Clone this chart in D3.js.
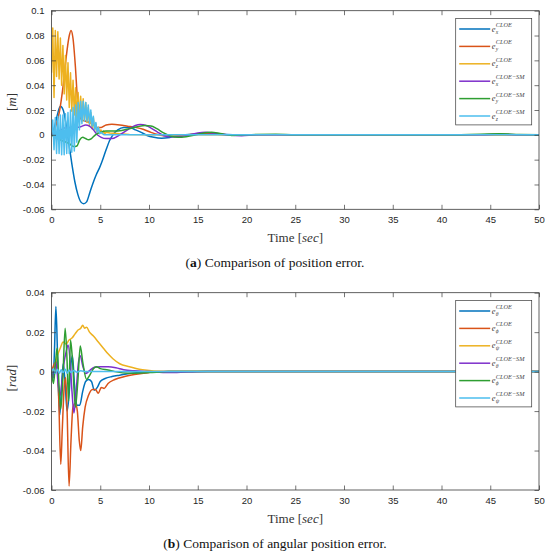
<!DOCTYPE html>
<html>
<head>
<meta charset="utf-8">
<script src="https://cdn.jsdelivr.net/npm/d3@7"></script>
<style>
  body { margin: 0; background: #fff; }
  svg { display: block; }
</style>
</head>
<body>
<div id="container"></div>
<script>
/* CONSTANTS AND GLOBALS */
const width = 550;
const height = 555;
const plotLeft = 51.5;
const plotRight = 539;
const sansFont = "'Liberation Sans', Arial, sans-serif";
const serifFont = "'Liberation Serif', 'Times New Roman', serif";

const colors = ["#0072BD", "#D95319", "#EDB120", "#7E2FCB", "#2E9E32", "#4DBEEE"];

/* DATA - tick labels */
const timeTicks = [0, 5, 10, 15, 20, 25, 30, 35, 40, 45, 50];
const posTicks = [0.1, 0.08, 0.06, 0.04, 0.02, 0, -0.02, -0.04, -0.06];
const angTicks = [0.04, 0.02, 0, -0.02, -0.04, -0.06];

/* DATA - legend */
const posSubs = ["x", "y", "z", "x", "y", "z"];
const angSubs = ["θ", "ϕ", "ψ", "θ", "ϕ", "ψ"];
const supers = ["CLOE", "CLOE", "CLOE", "CLOE−SM", "CLOE−SM", "CLOE−SM"];

/* DATA - position error [t, value] */
const posExCLOE = [[0,0],[0.3,0.006],[0.6,0.016],[0.9,0.023],[1.2,0.02],[1.5,0.008],[1.8,-0.008],[2.1,-0.024],[2.4,-0.038],[2.7,-0.048],[3.0,-0.054],[3.3,-0.0555],[3.6,-0.054],[3.95,-0.046],[4.3,-0.038],[4.6,-0.032],[4.9,-0.027],[5.2,-0.021],[5.6,-0.012],[6.0,-0.004],[6.3,0.0],[6.8,0.004],[7.4,0.006],[8.0,0.006],[8.6,0.004],[9.2,0.002],[9.8,-0.0005],[10.5,-0.002],[11.3,-0.0027],[12.2,-0.002],[13.2,-0.0005],[14.5,0.0005],[16,0.001],[17.5,0.0005],[19,0],[25,0],[35,0],[50,0]];
const posEyCLOE = [[0,0],[0.4,0.006],[0.8,0.018],[1.2,0.04],[1.5,0.062],[1.8,0.079],[2.0,0.084],[2.2,0.078],[2.45,0.055],[2.65,0.03],[2.85,0.017],[3.1,0.012],[3.5,0.011],[3.9,0.01],[4.3,0.008],[4.7,0.006],[5.1,0.006],[5.6,0.008],[6.2,0.0085],[7.0,0.008],[7.8,0.007],[8.6,0.006],[9.4,0.0045],[10.2,0.002],[11.0,0.0],[11.8,-0.001],[12.8,-0.001],[14,0],[16,0.0008],[18,0],[50,0]];
const posEzCLOE = [[0,0.05],[0.13,0.086],[0.26,0.03],[0.39,0.084],[0.52,0.047],[0.65,0.083],[0.78,0.045],[0.91,0.078],[1.04,0.04],[1.17,0.072],[1.3,0.033],[1.43,0.064],[1.56,0.028],[1.69,0.058],[1.82,0.022],[1.95,0.05],[2.08,0.019],[2.21,0.044],[2.34,0.016],[2.47,0.038],[2.6,0.013],[2.73,0.034],[2.86,0.011],[2.99,0.031],[3.12,0.011],[3.25,0.029],[3.38,0.011],[3.51,0.026],[3.64,0.01],[3.77,0.022],[3.9,0.007],[4.03,0.018],[4.16,0.005],[4.29,0.014],[4.42,0.003],[4.55,0.009],[4.68,0.002],[4.81,0.006],[4.94,0.001],[5.07,0.004],[5.2,0.001],[5.33,0.003],[5.46,0.001],[5.6,0.002],[6.0,0.0015],[7.0,0.0008],[8.0,0.0003],[10,0],[50,0]];
const posExSM = [[0,0],[0.5,0.002],[1.0,0.004],[1.5,0.006],[2.0,0.006],[2.5,0.006],[3.0,0.0065],[3.5,0.008],[3.9,0.007],[4.3,0.004],[4.7,0.0],[5.1,-0.002],[5.6,-0.003],[6.2,-0.003],[6.8,-0.001],[7.4,0.002],[8.0,0.005],[8.6,0.0075],[9.1,0.0083],[9.7,0.0075],[10.3,0.005],[10.9,0.002],[11.5,-0.0005],[12.2,-0.0015],[13,-0.0015],[14,-0.0003],[15,0.0015],[15.8,0.002],[16.8,0.0012],[18,0],[19.5,-0.0007],[21,0],[25,0],[44,0],[46,0.0007],[48,0],[50,0]];
const posEySM = [[0,0],[0.6,-0.003],[1.2,-0.005],[1.8,-0.007],[2.3,-0.0095],[2.6,-0.009],[2.9,-0.004],[3.2,-0.002],[3.5,-0.003],[3.8,-0.004],[4.1,-0.003],[4.5,0.0],[5.0,0.002],[5.6,0.003],[6.4,0.003],[7.2,0.0035],[8.0,0.005],[8.8,0.0065],[9.6,0.0075],[10.2,0.0072],[10.8,0.005],[11.5,0.0015],[12.2,-0.001],[13,-0.002],[13.8,-0.0015],[14.8,0],[15.6,0.0015],[16.4,0.002],[17.3,0.001],[18.5,-0.0005],[20,0],[23,0.0005],[25,0],[40,0],[44,0.0005],[46,0.0008],[48,0.0003],[50,0]];
const posEzSM = [[0,0],[0.13,0.012],[0.26,-0.012],[0.39,0.014],[0.52,-0.015],[0.65,0.015],[0.78,-0.015],[0.91,0.016],[1.04,-0.016],[1.17,0.016],[1.3,-0.016],[1.43,0.017],[1.56,-0.015],[1.69,0.018],[1.82,-0.015],[1.95,0.02],[2.08,-0.014],[2.21,0.022],[2.34,-0.013],[2.47,0.024],[2.6,-0.006],[2.73,0.026],[2.86,0.004],[2.99,0.027],[3.12,0.009],[3.25,0.027],[3.38,0.011],[3.51,0.026],[3.64,0.011],[3.77,0.024],[3.9,0.009],[4.03,0.02],[4.16,0.007],[4.29,0.015],[4.42,0.004],[4.55,0.01],[4.68,0.002],[4.81,0.006],[4.94,0.001],[5.1,0.002],[5.4,0],[50,0]];

/* DATA - angular position error [t, value] */
const angEthCLOE = [[0,0],[0.15,-0.004],[0.3,0.01],[0.45,0.033],[0.6,0.012],[0.72,-0.01],[0.85,-0.022],[1.0,-0.01],[1.2,0.004],[1.4,-0.006],[1.6,-0.02],[1.8,-0.012],[2.0,0.004],[2.15,0.008],[2.35,-0.006],[2.6,-0.017],[2.9,-0.017],[3.2,-0.01],[3.5,-0.005],[3.8,-0.004],[4.1,-0.005],[4.4,-0.0095],[4.7,-0.008],[5.0,-0.005],[5.5,-0.0035],[6.2,-0.0025],[7.0,-0.0018],[8.0,-0.001],[9.0,-0.0005],[10.5,-0.0002],[12,0],[50,0]];
const angEphCLOE = [[0,0],[0.3,0.004],[0.55,0.005],[0.75,-0.015],[0.95,-0.047],[1.1,-0.03],[1.3,-0.008],[1.45,-0.003],[1.6,-0.02],[1.8,-0.058],[2.0,-0.035],[2.2,-0.018],[2.45,-0.016],[2.65,-0.02],[2.85,-0.035],[3.0,-0.04],[3.2,-0.028],[3.45,-0.018],[3.8,-0.012],[4.2,-0.009],[4.5,-0.009],[4.8,-0.011],[5.1,-0.008],[5.4,-0.0085],[5.8,-0.006],[6.5,-0.004],[7.5,-0.0025],[8.5,-0.0015],[9.5,-0.0008],[11,0],[50,0]];
const angEpsCLOE = [[0,0],[0.3,0.002],[0.6,0.008],[0.9,0.012],[1.2,0.015],[1.5,0.014],[1.8,0.016],[2.1,0.017],[2.4,0.019],[2.7,0.021],[3.0,0.022],[3.2,0.0235],[3.4,0.022],[3.6,0.0225],[3.9,0.02],[4.3,0.018],[4.8,0.015],[5.3,0.012],[5.8,0.009],[6.3,0.0065],[7.0,0.004],[8.0,0.0025],[9.0,0.0012],[10,0.0006],[11,0.0002],[12,0],[50,0]];
const angEthSM = [[0,0],[0.2,-0.003],[0.45,0.005],[0.7,-0.007],[0.9,-0.012],[1.1,-0.004],[1.3,0.005],[1.5,0.01],[1.7,0.0135],[1.9,0.006],[2.1,-0.01],[2.3,-0.021],[2.5,-0.012],[2.75,0.004],[2.95,0.008],[3.2,0.003],[3.5,-0.001],[3.9,0.0005],[4.4,0.0022],[5.0,0.0025],[5.8,0.0025],[6.6,0.002],[7.4,0.001],[8.5,0.0004],[10,0],[12,-0.0005],[14,-0.0002],[16,0],[50,0]];
const angEphSM = [[0,0],[0.2,-0.006],[0.4,0.004],[0.58,0.012],[0.75,-0.005],[0.95,-0.019],[1.15,-0.005],[1.4,0.022],[1.6,0.005],[1.75,-0.015],[1.95,0.016],[2.15,0.006],[2.45,-0.018],[2.7,-0.005],[2.95,0.013],[3.2,0.005],[3.6,-0.004],[3.9,-0.002],[4.3,0.0015],[4.6,0.0025],[5.0,0.0015],[5.8,0.0008],[6.5,0],[8,-0.0008],[10,-0.0005],[12,0],[50,0]];
const angEpsSM = [[0,0],[0.2,0.0015],[0.4,-0.001],[0.6,0.0012],[0.8,-0.0008],[1.0,0.001],[1.2,-0.0005],[1.4,0.0012],[1.6,-0.0008],[1.8,0.0008],[2.0,-0.0004],[2.3,0.0006],[2.6,-0.0003],[3.0,0.0004],[3.5,0],[50,0]];

const posSeries = [posExCLOE, posEyCLOE, posEzCLOE, posExSM, posEySM, posEzSM];
const angSeries = [angEthCLOE, angEphCLOE, angEpsCLOE, angEthSM, angEphSM, angEpsSM];

/* SVG */
const svg = d3.select("#container")
  .append("svg")
  .attr("width", width)
  .attr("height", height);

const fmt = d => d === 0 ? "0" : d3.format(".2~f")(d).replace("−", "-");

function drawPanel(p) {
  const xScale = d3.scaleLinear().domain([0, 50]).range([plotLeft, plotRight]);
  const yScale = d3.scaleLinear().domain(p.domain).range([p.bottom, p.top]);

  const g = svg.append("g");

  // clip to the axes box
  const clipId = "clip" + p.id;
  g.append("clipPath").attr("id", clipId)
    .append("rect")
    .attr("x", plotLeft).attr("y", p.top)
    .attr("width", plotRight - plotLeft).attr("height", p.bottom - p.top);

  const line = d3.line()
    .x(d => xScale(d[0]))
    .y(d => yScale(d[1]));

  // series, in plotting order (last on top)
  const lines = g.append("g").attr("clip-path", `url(#${clipId})`);
  p.series.forEach((s, i) => {
    lines.append("path")
      .datum(s)
      .attr("fill", "none")
      .attr("stroke", colors[i])
      .attr("stroke-width", 1.5)
      .attr("stroke-linejoin", "round")
      .attr("d", line.curve(p.sharp.includes(i) ? d3.curveLinear : d3.curveMonotoneX));
  });

  // axes: ticks inside on all four sides
  const axisStyle = sel => {
    sel.select(".domain").remove();
    sel.selectAll(".tick line").attr("stroke", "#3a3a3a").attr("stroke-width", 0.7);
    sel.selectAll("text")
      .attr("fill", "#262626")
      .style("font-family", sansFont)
      .style("font-size", "9.5px");
  };

  g.append("g")
    .attr("transform", `translate(0,${p.bottom})`)
    .call(d3.axisBottom(xScale).tickValues(timeTicks).tickSize(-4.5).tickPadding(7).tickFormat(d3.format("d")))
    .call(axisStyle);
  g.append("g")
    .attr("transform", `translate(0,${p.top})`)
    .call(d3.axisTop(xScale).tickValues(timeTicks).tickSize(-4.5).tickFormat(""))
    .call(axisStyle);
  g.append("g")
    .attr("transform", `translate(${plotLeft},0)`)
    .call(d3.axisLeft(yScale).tickValues(p.ticks).tickSize(-4.5).tickPadding(7).tickFormat(fmt))
    .call(axisStyle);
  g.append("g")
    .attr("transform", `translate(${plotRight},0)`)
    .call(d3.axisRight(yScale).tickValues(p.ticks).tickSize(-4.5).tickFormat(""))
    .call(axisStyle);

  g.append("rect")
    .attr("x", plotLeft).attr("y", p.top)
    .attr("width", plotRight - plotLeft).attr("height", p.bottom - p.top)
    .attr("fill", "none").attr("stroke", "#3a3a3a").attr("stroke-width", 0.8);

  // y label
  const yl = g.append("text")
    .attr("transform", `translate(16,${p.ylabelY}) rotate(-90)`)
    .attr("text-anchor", "middle")
    .style("font-family", serifFont)
    .style("font-size", "13px")
    .attr("fill", "#333");
  yl.append("tspan").text("[");
  yl.append("tspan").style("font-style", "italic").text(p.ylabel);
  yl.append("tspan").text("]");

  // x label
  const xl = g.append("text")
    .attr("x", (plotLeft + plotRight) / 2)
    .attr("y", p.bottom + 33)
    .attr("text-anchor", "middle")
    .style("font-family", serifFont)
    .style("font-size", "13px")
    .attr("fill", "#333");
  xl.append("tspan").text("Time [");
  xl.append("tspan").style("font-style", "italic").text("sec");
  xl.append("tspan").text("]");

  // caption
  const cap = g.append("text")
    .attr("x", 275)
    .attr("y", p.bottom + 58)
    .attr("text-anchor", "middle")
    .style("font-family", serifFont)
    .style("font-size", "13.5px")
    .attr("fill", "#111");
  cap.append("tspan").text("(");
  cap.append("tspan").style("font-weight", "bold").text(p.letter);
  cap.append("tspan").text(") " + p.caption);

  // legend
  const lg = g.append("g");
  const lx = 455.7, lw = 76, ly = p.legendTop, step = 17.4;
  lg.append("rect")
    .attr("x", lx).attr("y", ly)
    .attr("width", lw).attr("height", step * 6 + 2)
    .attr("fill", "#fff").attr("stroke", "#3a3a3a").attr("stroke-width", 0.7);
  p.series.forEach((s, i) => {
    const cy = ly + 10.5 + i * step;
    lg.append("line")
      .attr("x1", lx + 3.5).attr("x2", lx + 34.5)
      .attr("y1", cy).attr("y2", cy)
      .attr("stroke", colors[i]).attr("stroke-width", 1.5);
    const tg = lg.append("g")
      .style("font-family", serifFont)
      .style("font-style", "italic")
      .attr("fill", "#444");
    tg.append("text").attr("x", lx + 36).attr("y", cy + 2.5).style("font-size", "8.5px").text("e");
    tg.append("text").attr("x", lx + 40).attr("y", cy - 2).style("font-size", "6.3px").text(supers[i]);
    tg.append("text").attr("x", lx + 40).attr("y", cy + 4.5).style("font-size", "5.5px").text(p.subs[i]);
  });
}

drawPanel({
  id: "a",
  top: 10.7, bottom: 209.3,
  domain: [-0.06, 0.1],
  ticks: posTicks,
  series: posSeries,
  sharp: [2, 5],
  ylabel: "m",
  ylabelY: 102,
  legendTop: 18.5,
  subs: posSubs,
  letter: "a",
  caption: "Comparison of position error."
});

drawPanel({
  id: "b",
  top: 292.7, bottom: 490,
  domain: [-0.06, 0.04],
  ticks: angTicks,
  series: angSeries,
  sharp: [],
  ylabel: "rad",
  ylabelY: 378,
  legendTop: 300.5,
  subs: angSubs,
  letter: "b",
  caption: "Comparison of angular position error."
});
</script>
</body>
</html>
